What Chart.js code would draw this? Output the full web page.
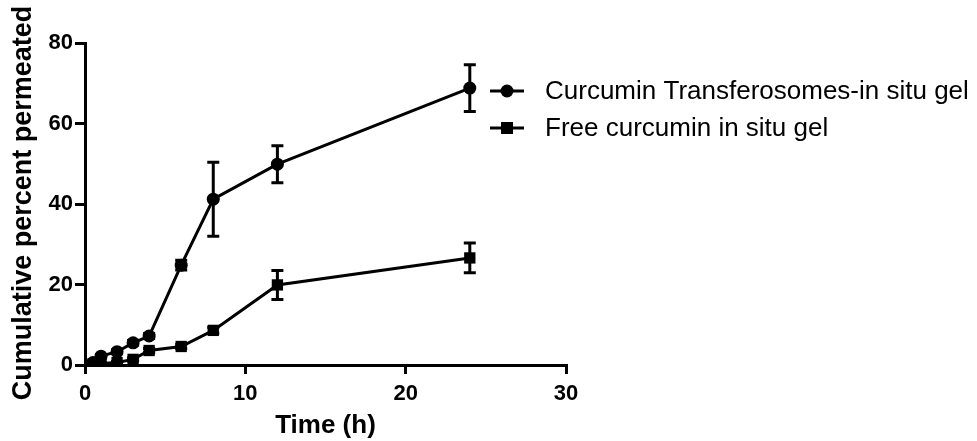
<!DOCTYPE html>
<html>
<head>
<meta charset="utf-8">
<script src="https://cdn.jsdelivr.net/npm/chart.js@4/dist/chart.umd.min.js"></script>
<style>
  html, body { margin: 0; padding: 0; background: #fff; }
  #wrap { width: 977px; height: 441px; }
</style>
</head>
<body>
<div id="wrap"><canvas id="c" width="977" height="441"></canvas></div>
<script>
// Sampling times (h)
const timeH = [0.5, 1, 2, 3, 4, 6, 8, 12, 24];

// Cumulative percent permeated, mean and SD
const transferosomeMean = [0.6, 2.2, 3.3, 5.5, 7.2, 24.8, 41.2, 49.9, 68.8];
const transferosomeSD   = [0.3, 0.4, 0.5, 0.6, 0.6, 1.2, 9.2, 4.6, 5.8];
const freeMean = [0.3, 0.4, 0.6, 1.4, 3.6, 4.6, 8.6, 19.9, 26.6];
const freeSD   = [0.2, 0.2, 0.3, 0.4, 0.5, 0.5, 0.7, 3.6, 3.7];

// Series names, axis titles and ticks
const seriesNames = ['Curcumin Transferosomes-in situ gel', 'Free curcumin in situ gel'];
const xTitle = 'Time (h)';
const yTitle = 'Cumulative percent permeated';
const xTickValues = [0, 10, 20, 30];
const yTickValues = [0, 20, 40, 60, 80];

const FONT = '"Liberation Sans", Arial, sans-serif';
const toPoints = (xs, ys) => xs.map((x, i) => ({ x: x, y: ys[i] }));

// Vertical SD bars with caps, drawn beneath the markers
const errorBars = {
  id: 'errorBars',
  beforeDatasetsDraw(chart) {
    const { ctx, scales: { x, y } } = chart;
    ctx.save();
    ctx.strokeStyle = '#000';
    ctx.lineWidth = 3;
    ctx.lineCap = 'butt';
    chart.data.datasets.forEach(ds => {
      ds.data.forEach((p, i) => {
        const e = ds.sd[i];
        const px = x.getPixelForValue(p.x);
        const top = y.getPixelForValue(p.y + e);
        const bot = y.getPixelForValue(p.y - e);
        ctx.beginPath();
        ctx.moveTo(px, top); ctx.lineTo(px, bot);
        ctx.moveTo(px - 6, top); ctx.lineTo(px + 6, top);
        ctx.moveTo(px - 6, bot); ctx.lineTo(px + 6, bot);
        ctx.stroke();
      });
    });
    ctx.restore();
  }
};

// Rotated y-axis title
const yAxisTitle = {
  id: 'yAxisTitle',
  afterDraw(chart) {
    const { ctx } = chart;
    ctx.save();
    ctx.translate(24, 203);
    ctx.rotate(-Math.PI / 2);
    ctx.fillStyle = '#000';
    ctx.font = 'bold 27px ' + FONT;
    ctx.textAlign = 'center';
    ctx.textBaseline = 'middle';
    ctx.fillText(yTitle, 0, 0);
    ctx.restore();
  }
};

// Legend on the right: short line with the series marker, then the name
const sideLegend = {
  id: 'sideLegend',
  afterDraw(chart) {
    const { ctx } = chart;
    const x0 = 490, x1 = 524, tx = 545;
    const rows = [91, 128];
    ctx.save();
    ctx.fillStyle = '#000';
    ctx.strokeStyle = '#000';
    ctx.lineWidth = 3;
    ctx.font = '26px ' + FONT;
    ctx.textBaseline = 'middle';
    chart.data.datasets.forEach((ds, i) => {
      const yy = rows[i];
      const cx = (x0 + x1) / 2;
      ctx.beginPath();
      ctx.moveTo(x0, yy); ctx.lineTo(x1, yy);
      ctx.stroke();
      ctx.beginPath();
      if (ds.pointStyle === 'rect') {
        ctx.rect(cx - 6, yy - 6, 12, 12);
      } else {
        ctx.arc(cx, yy, 6.5, 0, Math.PI * 2);
      }
      ctx.fill();
      ctx.fillText(ds.label, tx, yy + 1);
    });
    ctx.restore();
  }
};

const tickFont = { family: FONT, size: 22, weight: 'bold' };
const titleFont = { family: FONT, size: 26, weight: 'bold' };

new Chart(document.getElementById('c'), {
  type: 'scatter',
  data: {
    datasets: [
      {
        label: seriesNames[0],
        data: toPoints(timeH, transferosomeMean),
        sd: transferosomeSD,
        showLine: true,
        borderColor: '#000',
        backgroundColor: '#000',
        borderWidth: 3,
        pointStyle: 'circle',
        pointRadius: 6.5,
        pointBorderWidth: 0,
        order: 2
      },
      {
        label: seriesNames[1],
        data: toPoints(timeH, freeMean),
        sd: freeSD,
        showLine: true,
        borderColor: '#000',
        backgroundColor: '#000',
        borderWidth: 3,
        pointStyle: 'rect',
        pointRadius: 8,
        pointBorderWidth: 0,
        order: 1
      }
    ]
  },
  options: {
    responsive: false,
    animation: false,
    layout: { padding: { top: 43, right: 411, left: 0, bottom: 0 } },
    plugins: { legend: { display: false }, tooltip: { enabled: false } },
    scales: {
      x: {
        type: 'linear',
        min: 0, max: 30,
        afterBuildTicks(axis) { axis.ticks = xTickValues.map(v => ({ value: v })); },
        afterFit(axis) { axis.height = 76; },
        border: { display: true, color: '#000', width: 3 },
        grid: { drawOnChartArea: false, drawTicks: true, tickLength: 9, color: '#000', lineWidth: 3 },
        ticks: { color: '#000', font: tickFont, padding: 7, maxRotation: 0 },
        title: { display: true, text: xTitle, color: '#000', font: titleFont, padding: { top: 0, bottom: 0 } }
      },
      y: {
        type: 'linear',
        min: 0, max: 80,
        afterBuildTicks(axis) { axis.ticks = yTickValues.map(v => ({ value: v })); },
        afterFit(axis) { axis.width = 85; },
        border: { display: true, color: '#000', width: 3 },
        grid: { drawOnChartArea: false, drawTicks: true, tickLength: 10, color: '#000', lineWidth: 3 },
        ticks: { color: '#000', font: tickFont, padding: 2 },
        title: { display: false }
      }
    }
  },
  plugins: [errorBars, yAxisTitle, sideLegend]
});
</script>
</body>
</html>
